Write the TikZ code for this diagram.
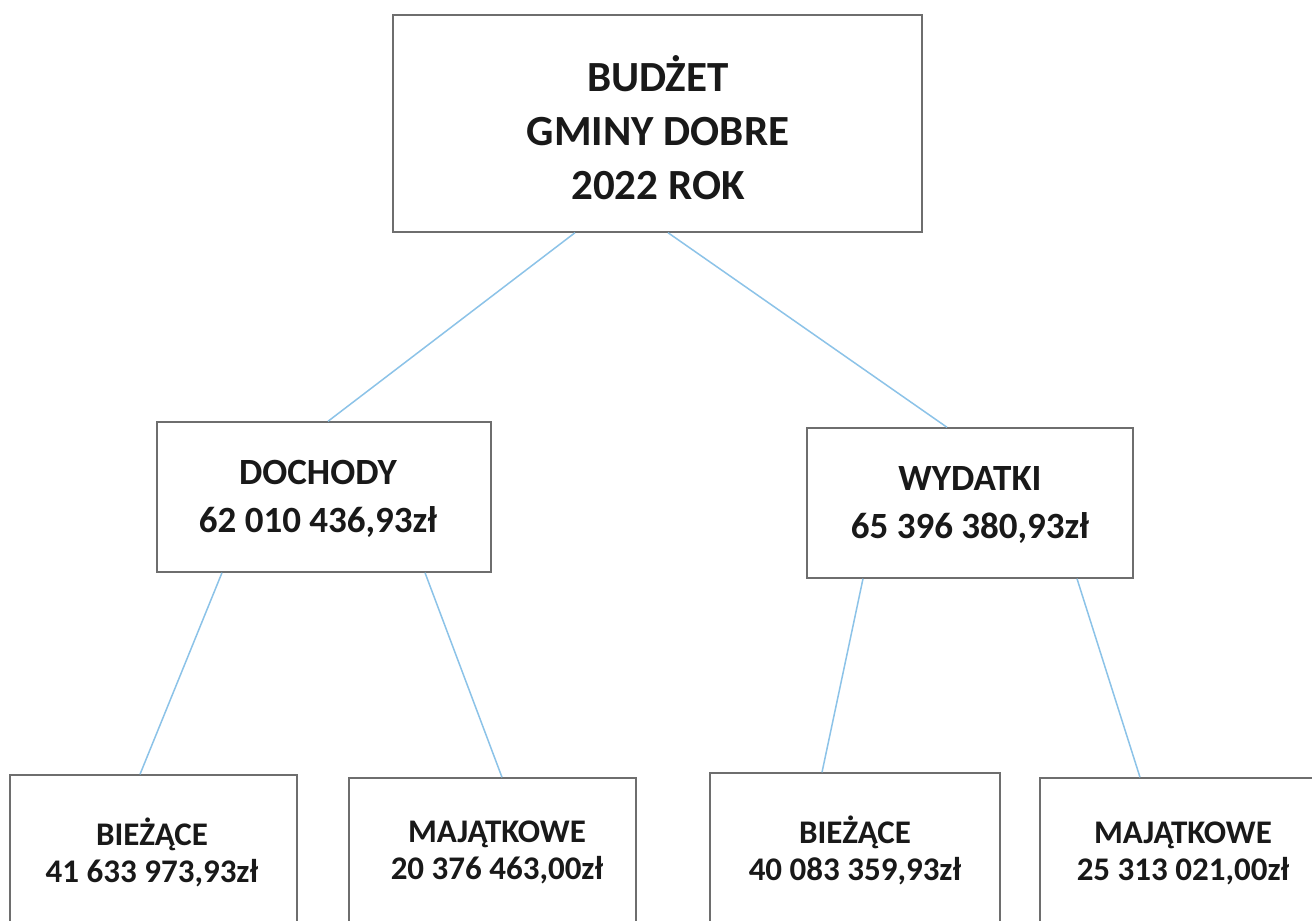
\documentclass[tikz,border=0pt]{standalone}
\usepackage{fontspec}
\setmainfont{Carlito}
\definecolor{linkblue}{RGB}{140,195,232}
\definecolor{boxgray}{RGB}{110,110,110}
\tikzset{
  box/.style={draw=boxgray, line width=1.4pt, fill=white, inner sep=0pt},
  link/.style={draw=linkblue, line width=1.5pt},
  lbl/.style={align=center, font=\bfseries, text=black!90, inner sep=0pt},
  bigtxt/.style={font=\bfseries\fontsize{43}{54}\selectfont},
  midtxt/.style={font=\bfseries\fontsize{37}{48}\selectfont},
  smalltxt/.style={font=\bfseries\fontsize{33}{37}\selectfont},
}
\begin{document}
\begin{tikzpicture}[x=1pt,y=-1pt]
\clip (0,0) rectangle (1312,921);
\fill[white] (0,0) rectangle (1312,921);
% boxes
\node[box, minimum width=529pt, minimum height=217pt] (top) at (657.5,123.5) {};
\node[box, minimum width=334pt, minimum height=150pt] (doch) at (324,497) {};
\node[box, minimum width=326pt, minimum height=150pt] (wyd) at (970,503) {};
\node[box, minimum width=287pt, minimum height=200pt] (b1) at (153.5,875) {};
\node[box, minimum width=287pt, minimum height=200pt] (b2) at (492.5,878) {};
\node[box, minimum width=290pt, minimum height=200pt] (b3) at (855,873) {};
\node[box, minimum width=290pt, minimum height=200pt] (b4) at (1185,878) {};
% texts
\node[lbl, bigtxt] (ttop) at (658,128) {BUDŻET\\GMINY DOBRE\\2022 ROK};
\node[lbl, midtxt] (tdoch) at (318,499) {DOCHODY\\62 010 436,93zł};
\node[lbl, midtxt] (twyd) at (970,505) {WYDATKI\\65 396 380,93zł};
\node[lbl, smalltxt] (tb1) at (152,852) {BIEŻĄCE\\41 633 973,93zł};
\node[lbl, smalltxt] (tb2) at (497,852) {MAJĄTKOWE\\20 376 463,00zł};
\node[lbl, smalltxt] (tb3) at (855,850) {BIEŻĄCE\\40 083 359,93zł};
\node[lbl, smalltxt] (tb4) at (1183,853) {MAJĄTKOWE\\25 313 021,00zł};
% connectors
\draw[link] ([xshift=-82.5pt]top.south) -- ([xshift=4pt]doch.north);
\draw[link] ([xshift=10.5pt]top.south) -- ([xshift=-23pt]wyd.north);
\draw[link] ([xshift=-102pt]doch.south) -- ([xshift=-13.5pt]b1.north);
\draw[link] ([xshift=101pt]doch.south) -- ([xshift=9.5pt]b2.north);
\draw[link] ([xshift=-107pt]wyd.south) -- ([xshift=-33pt]b3.north);
\draw[link] ([xshift=107pt]wyd.south) -- ([xshift=-45pt]b4.north);
\end{tikzpicture}
\end{document}
